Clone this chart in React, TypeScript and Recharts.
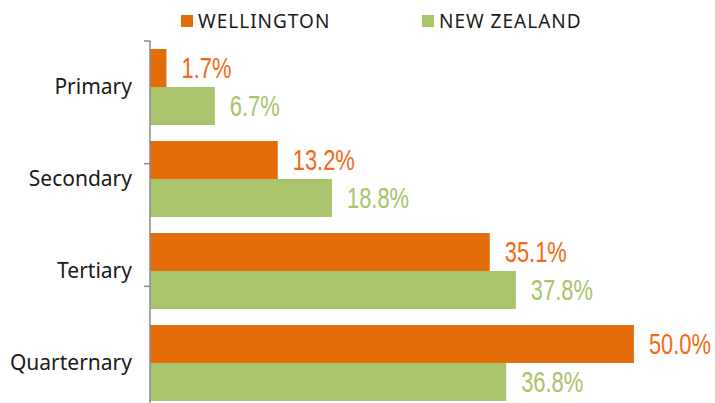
import React from 'react';
import { BarChart, Bar, XAxis, YAxis, Legend, LabelList } from 'recharts';

const categories = ['Primary', 'Secondary', 'Tertiary', 'Quarternary'];
const wellington = [1.7, 13.2, 35.1, 50.0];
const newZealand = [6.7, 18.8, 37.8, 36.8];
const seriesNames = ['WELLINGTON', 'NEW ZEALAND'];
const boundaryTicks = [0, 1, 2, 3, 4];

const ORANGE = '#E46C0A';
const ORANGE_LABEL = '#F26A14';
const GREEN = '#AAC46C';
const GREEN_LABEL = '#A8C46A';
const AXIS = '#8A8A8A';
const FONT = "'Noto Sans', sans-serif";
const LABEL_FONT = "'Liberation Sans', Arial, sans-serif";

const data = categories.map((name, i) => ({
  name,
  wellington: wellington[i],
  nz: newZealand[i],
}));

const fmt = (v: any) => `${Number(v).toFixed(1)}%`;

const makeLabel = (color: string) => (props: any) => {
  const { x, y, width, height, value } = props;
  const tx = Number(x) + Number(width) + 15;
  const ty = Number(y) + Number(height) / 2;
  return (
    <text
      transform={`translate(${tx},${ty}) scale(0.755,1)`}
      x={0}
      y={0}
      dy="0.36em"
      fill={color}
      fontFamily={LABEL_FONT}
      fontSize={29}
      textAnchor="start"
    >
      {fmt(value)}
    </text>
  );
};

const renderLegend = () => {
  const items = [
    { name: seriesNames[0], color: ORANGE, left: 181 },
    { name: seriesNames[1], color: GREEN, left: 422 },
  ];
  return (
    <div style={{ position: 'relative', width: 715, height: 40 }}>
      {items.map((it) => (
        <div
          key={it.name}
          style={{
            position: 'absolute',
            left: it.left,
            top: 8,
            display: 'flex',
            alignItems: 'center',
            fontFamily: FONT,
            fontSize: 19,
            letterSpacing: 1,
            color: '#1a1a1a',
            whiteSpace: 'nowrap',
          }}
        >
          <span style={{ display: 'inline-block', width: 12, height: 12, background: it.color, marginRight: 5 }} />
          <span>{it.name}</span>
        </div>
      ))}
    </div>
  );
};

const emptyTick = () => <g />;

export default function App() {
  return (
    <div style={{ position: 'absolute', left: 0, top: 0, width: 715, height: 403, overflow: 'hidden', background: '#fff' }}>
      <BarChart
        width={715}
        height={409}
        data={data}
        layout="vertical"
        margin={{ top: 1, right: 23, bottom: 0, left: 0 }}
        barCategoryGap={8}
        barGap={0}
      >
        <XAxis type="number" hide domain={[0, 56]} />
        <YAxis
          yAxisId="cat"
          type="category"
          dataKey="name"
          width={150}
          axisLine={{ stroke: AXIS, strokeWidth: 1.5 }}
          tickLine={false}
          tickMargin={12}
          tick={{ fontFamily: FONT, fontSize: 21, fill: '#1a1a1a', letterSpacing: 0 }}
        />
        <YAxis
          yAxisId="bounds"
          type="number"
          domain={[0, 4]}
          ticks={boundaryTicks}
          allowDataOverflow
          mirror
          tickSize={-6}
          tick={emptyTick}
          axisLine={false}
          tickLine={{ stroke: AXIS, strokeWidth: 1.5 }}
        />
        <Legend verticalAlign="top" align="left" content={renderLegend} wrapperStyle={{ top: 0, left: 0, width: 715, height: 40 }} />
        <Bar yAxisId="cat" dataKey="wellington" name={seriesNames[0]} fill={ORANGE} isAnimationActive={false}>
          <LabelList dataKey="wellington" content={makeLabel(ORANGE_LABEL)} />
        </Bar>
        <Bar yAxisId="cat" dataKey="nz" name={seriesNames[1]} fill={GREEN} isAnimationActive={false}>
          <LabelList dataKey="nz" content={makeLabel(GREEN_LABEL)} />
        </Bar>
      </BarChart>
    </div>
  );
}
